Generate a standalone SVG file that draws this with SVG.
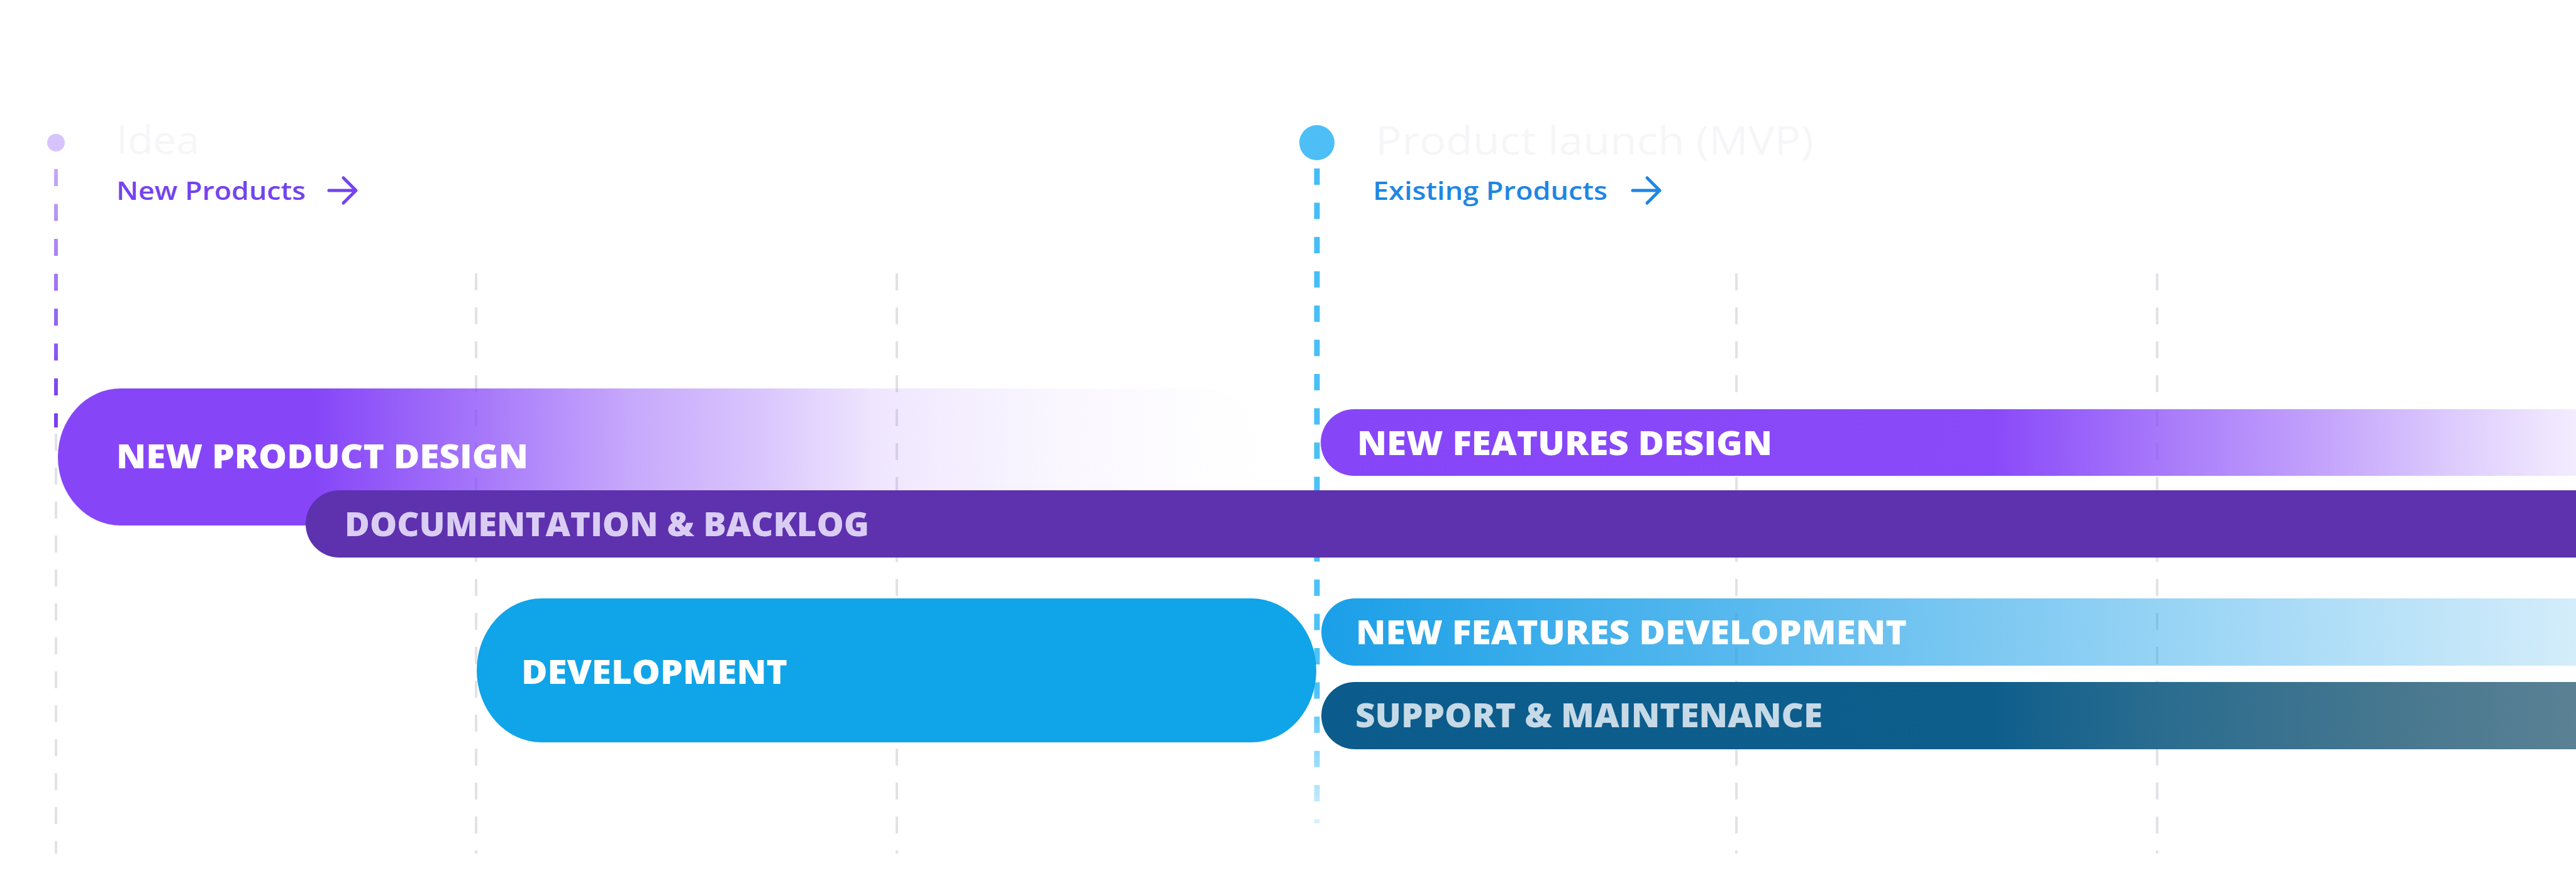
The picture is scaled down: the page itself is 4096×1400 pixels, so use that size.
<svg xmlns="http://www.w3.org/2000/svg" width="4096" height="1400" viewBox="0 0 4096 1400">
  <style>
    .grid { stroke: #e2e2e6; stroke-width: 4; stroke-dasharray: 27 27; fill: none; }
    .bar-label { font-family: "Open Sans", "Liberation Sans", sans-serif; font-weight: 800; font-size: 53px; }
    .title { font-family: "Open Sans", "Liberation Sans", sans-serif; font-weight: 500; font-size: 62px; fill: #f6f6f8; }
    .sub { font-family: "Open Sans", "Liberation Sans", sans-serif; font-weight: 600; font-size: 40px; }
    .arrow { fill: none; stroke-width: 5; stroke-linecap: round; stroke-linejoin: round; }
  </style>
  <defs>
    <linearGradient id="gNPD" gradientUnits="userSpaceOnUse" x1="92" y1="0" x2="2010" y2="0">
      <stop offset="0" stop-color="#8646f8" stop-opacity="1"/>
      <stop offset="0.213" stop-color="#8646f8" stop-opacity="1"/>
      <stop offset="0.347" stop-color="#8646f8" stop-opacity="0.74"/>
      <stop offset="0.473" stop-color="#8646f8" stop-opacity="0.47"/>
      <stop offset="0.578" stop-color="#8646f8" stop-opacity="0.32"/>
      <stop offset="0.682" stop-color="#8646f8" stop-opacity="0.13"/>
      <stop offset="0.838" stop-color="#8646f8" stop-opacity="0.04"/>
      <stop offset="1" stop-color="#8646f8" stop-opacity="0"/>
    </linearGradient>
    <linearGradient id="gNFD" gradientUnits="userSpaceOnUse" x1="2100" y1="0" x2="4096" y2="0">
      <stop offset="0" stop-color="#8646f8" stop-opacity="1"/>
      <stop offset="0.536" stop-color="#8a4af9" stop-opacity="1"/>
      <stop offset="0.666" stop-color="#8646f8" stop-opacity="0.73"/>
      <stop offset="0.802" stop-color="#8646f8" stop-opacity="0.49"/>
      <stop offset="0.902" stop-color="#8646f8" stop-opacity="0.28"/>
      <stop offset="1" stop-color="#8646f8" stop-opacity="0.1"/>
    </linearGradient>
    <linearGradient id="gNFDev" gradientUnits="userSpaceOnUse" x1="2100" y1="0" x2="4096" y2="0">
      <stop offset="0" stop-color="#1a9fe8" stop-opacity="1"/>
      <stop offset="1" stop-color="#1a9fe8" stop-opacity="0.19"/>
    </linearGradient>
    <linearGradient id="gSup" gradientUnits="userSpaceOnUse" x1="2100" y1="0" x2="4096" y2="0">
      <stop offset="0" stop-color="#0b5c8c"/>
      <stop offset="0.536" stop-color="#0e5e8c"/>
      <stop offset="0.666" stop-color="#2a6c8f"/>
      <stop offset="0.852" stop-color="#46778f"/>
      <stop offset="1" stop-color="#5a8194"/>
    </linearGradient>
    <linearGradient id="gPurpleLine" gradientUnits="userSpaceOnUse" x1="0" y1="260" x2="0" y2="640">
      <stop offset="0" stop-color="#c4acf9"/>
      <stop offset="1" stop-color="#7a3ff0"/>
    </linearGradient>
    <linearGradient id="gBlueLine" gradientUnits="userSpaceOnUse" x1="0" y1="260" x2="0" y2="1310">
      <stop offset="0" stop-color="#45bdf5"/>
      <stop offset="0.8" stop-color="#4fc3f7"/>
      <stop offset="1" stop-color="#d9f0fd"/>
    </linearGradient>
  </defs>

  <rect x="0" y="0" width="4096" height="1400" fill="#ffffff"/>

  <g id="connectors">
    <line class="grid" x1="89" y1="690" x2="89" y2="1358"/>
    <line class="grid" x1="757" y1="435" x2="757" y2="1358"/>
    <line class="grid" x1="1426" y1="435" x2="1426" y2="1358"/>
    <line class="grid" x1="2761" y1="435" x2="2761" y2="1358"/>
    <line class="grid" x1="3430" y1="435" x2="3430" y2="1358"/>
    <line x1="89" y1="269" x2="89" y2="680" stroke="url(#gPurpleLine)" stroke-width="6" stroke-dasharray="27 28.5"/>
    <line x1="2094" y1="268" x2="2094" y2="1310" stroke="url(#gBlueLine)" stroke-width="9" stroke-dasharray="26 28.5"/>
  </g>

  <g id="milestone-idea">
    <circle cx="89" cy="227" r="14" fill="#d6c3fb"/>
    <text class="title" x="185" y="245" textLength="132" lengthAdjust="spacingAndGlyphs">Idea</text>
    <text class="sub" x="185" y="318" fill="#7443ef" textLength="301" lengthAdjust="spacingAndGlyphs">New Products</text>
    <path class="arrow" stroke="#7443ef" d="M523 303 H566 M546 283 L566 303 L546 323"/>
  </g>

  <g id="milestone-launch">
    <circle cx="2094" cy="227" r="28" fill="#4dbff6"/>
    <text class="title" x="2187" y="246" textLength="697" lengthAdjust="spacingAndGlyphs">Product launch (MVP)</text>
    <text class="sub" x="2183" y="318" fill="#1e86e3" textLength="373" lengthAdjust="spacingAndGlyphs">Existing Products</text>
    <path class="arrow" stroke="#1e86e3" d="M2596 303 H2639 M2619 283 L2639 303 L2619 323"/>
  </g>

  <g id="bar-new-product-design">
    <rect x="92" y="618" width="1918" height="218" rx="100" ry="109" fill="url(#gNPD)"/>
    <text class="bar-label" x="185" y="745" fill="#ffffff" textLength="655" lengthAdjust="spacingAndGlyphs">NEW PRODUCT DESIGN</text>
  </g>

  <g id="bar-new-features-design">
    <rect x="2100" y="651" width="2100" height="106" rx="53" fill="url(#gNFD)"/>
    <text class="bar-label" x="2158" y="724" fill="#ffffff" textLength="660" lengthAdjust="spacingAndGlyphs">NEW FEATURES DESIGN</text>
  </g>

  <g id="bar-documentation">
    <rect x="486" y="780" width="3700" height="107" rx="53.5" fill="#5e31ae"/>
    <text class="bar-label" x="548" y="853" fill="#dacdf4" textLength="834" lengthAdjust="spacingAndGlyphs">DOCUMENTATION &amp; BACKLOG</text>
  </g>

  <g id="bar-development">
    <rect x="758" y="952" width="1335" height="229" rx="103" ry="114.5" fill="#10a4e8"/>
    <text class="bar-label" x="829" y="1088" fill="#ffffff" textLength="423" lengthAdjust="spacingAndGlyphs">DEVELOPMENT</text>
  </g>

  <g id="bar-new-features-development">
    <rect x="2101" y="952" width="2100" height="107" rx="53.5" fill="url(#gNFDev)"/>
    <text class="bar-label" x="2156" y="1025" fill="#ffffff" textLength="876" lengthAdjust="spacingAndGlyphs">NEW FEATURES DEVELOPMENT</text>
  </g>

  <g id="bar-support">
    <rect x="2101" y="1085" width="2100" height="107" rx="53.5" fill="url(#gSup)"/>
    <text class="bar-label" x="2155" y="1157" fill="#c6d9e7" textLength="743" lengthAdjust="spacingAndGlyphs">SUPPORT &amp; MAINTENANCE</text>
  </g>
</svg>
